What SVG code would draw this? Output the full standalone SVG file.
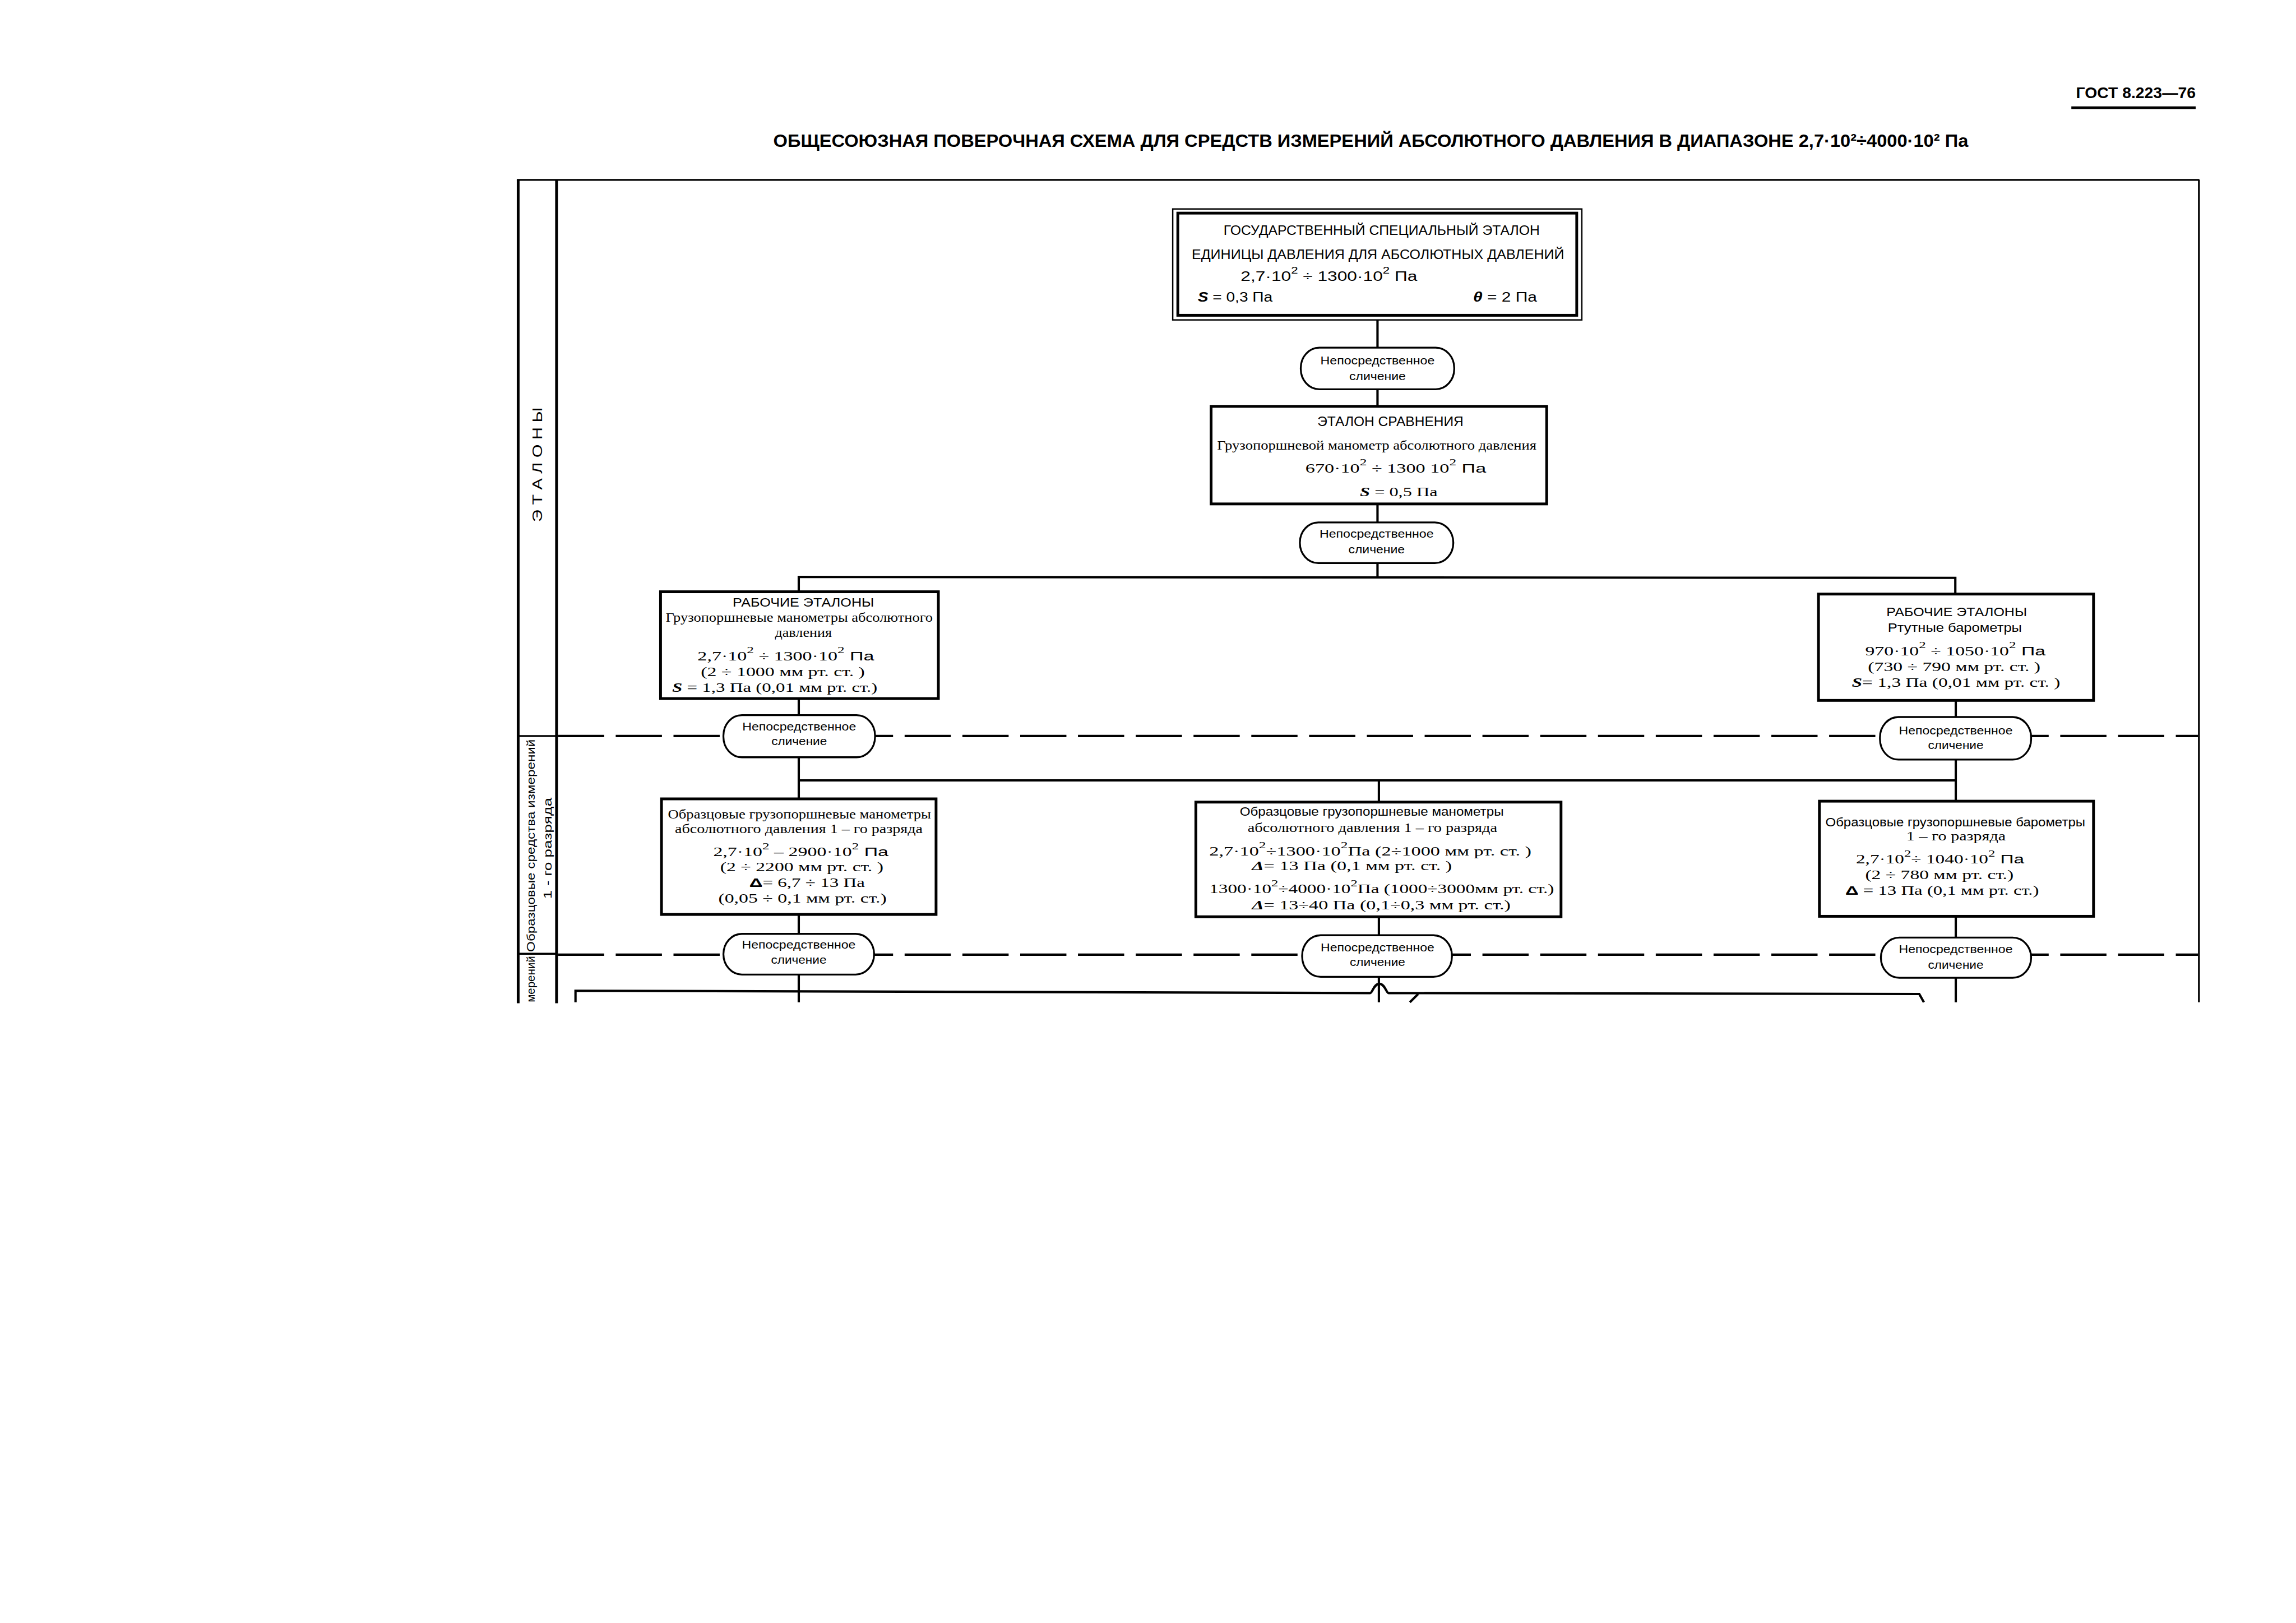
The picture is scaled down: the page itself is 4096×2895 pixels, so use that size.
<svg xmlns="http://www.w3.org/2000/svg" width="4096" height="2895" viewBox="0 0 4096 2895">
<style>
.fr{stroke:#000;stroke-width:6;fill:none}
.fr2{stroke:#000;stroke-width:4;fill:none}
.box{fill:#fff;stroke:#000;stroke-width:6}
.pill{fill:#fff;stroke:#000;stroke-width:4}
.c{stroke:#000;stroke-width:5;fill:none}
.d{stroke:#000;stroke-width:5;fill:none;stroke-dasharray:100 25}
text{fill:#000}
.s{font-family:"Liberation Sans","DejaVu Sans",sans-serif}
.r{font-family:"Liberation Serif","DejaVu Serif",serif}
.m{text-anchor:middle}
.p{font-family:"Liberation Sans","DejaVu Sans",sans-serif;font-size:25px;text-anchor:middle}
.b{font-size:27px}
.h{font-size:30px}
</style>
<rect width="4096" height="2895" fill="#fff"/>
<g transform="scale(0.82464)">
<g id="header">
<text class="s" x="4491" y="212" font-size="34" font-weight="bold" textLength="259" lengthAdjust="spacingAndGlyphs">ГОСТ 8.223—76</text>
<line x1="4481" y1="233" x2="4750" y2="233" stroke="#000" stroke-width="6"/>
<text class="s" x="1673" y="318" font-size="38" font-weight="bold" textLength="2585" lengthAdjust="spacingAndGlyphs">ОБЩЕСОЮЗНАЯ  ПОВЕРОЧНАЯ  СХЕМА  ДЛЯ  СРЕДСТВ  ИЗМЕРЕНИЙ  АБСОЛЮТНОГО  ДАВЛЕНИЯ  В  ДИАПАЗОНЕ  2,7·10²÷4000·10² Па</text>
</g>
<g id="frame">
<line class="fr" x1="1121" y1="389" x2="1121" y2="2170"/>
<line class="fr" x1="1204" y1="389" x2="1204" y2="2170"/>
<line class="fr2" x1="1118" y1="389" x2="4758" y2="389"/>
<line class="fr2" x1="4757" y1="389" x2="4757" y2="2168"/>
<line class="fr2" x1="1121" y1="1592" x2="1204" y2="1592"/>
<line class="fr2" x1="1121" y1="2063" x2="1204" y2="2063"/>
<text class="s" transform="translate(1173,1005) rotate(-90)" text-anchor="middle" font-size="30" textLength="248" lengthAdjust="spacingAndGlyphs">Э Т А Л О Н Ы</text>
<text class="s" transform="translate(1157,1829) rotate(-90)" text-anchor="middle" font-size="25" textLength="460" lengthAdjust="spacingAndGlyphs">Образцовые средства измерений</text>
<text class="s" transform="translate(1193,1835) rotate(-90)" text-anchor="middle" font-size="25" textLength="219" lengthAdjust="spacingAndGlyphs">1 - го разряда</text>
<text class="s" transform="translate(1157,2068) rotate(-90)" text-anchor="end" font-size="25" textLength="100" lengthAdjust="spacingAndGlyphs">мерений</text>
</g>
<g id="connectors">
<line class="c" x1="2980" y1="692" x2="2980" y2="752"/>
<line class="c" x1="2980" y1="842" x2="2980" y2="879"/>
<line class="c" x1="2980" y1="1090" x2="2980" y2="1130"/>
<line class="c" x1="2980" y1="1218" x2="2980" y2="1248"/>
<polyline class="c" points="1728,1280 1728,1248 4230,1250 4230,1285"/>
<line class="c" x1="1728" y1="1511" x2="1728" y2="1547"/>
<line class="c" x1="4231" y1="1515" x2="4231" y2="1551"/>
<line class="c" x1="1728" y1="1638" x2="1728" y2="1728"/>
<line class="c" x1="4231" y1="1643" x2="4231" y2="1733"/>
<line class="c" x1="1728" y1="1688" x2="4231" y2="1688"/>
<line class="c" x1="2983" y1="1688" x2="2983" y2="1735"/>
<line class="d" x1="1207" y1="1592" x2="4755" y2="1592"/>
<line class="d" x1="1207" y1="2065" x2="4755" y2="2065"/>
<line class="c" x1="1728" y1="1978" x2="1728" y2="2020"/>
<line class="c" x1="2983" y1="1983" x2="2983" y2="2023"/>
<line class="c" x1="4231" y1="1982" x2="4231" y2="2028"/>
<line class="c" x1="1728" y1="2108" x2="1728" y2="2168"/>
<line class="c" x1="2983" y1="2113" x2="2983" y2="2168"/>
<line class="c" x1="4231" y1="2115" x2="4231" y2="2168"/>
<path class="c" d="M1245,2168 L1245,2143 L2964,2148 C2969,2148 2972,2128 2984,2128 C2996,2128 2999,2148 3004,2148 L4152,2150 L4162,2168"/>
<line class="c" x1="3068" y1="2150" x2="3050" y2="2168"/>
</g>
<g id="n-state">
<rect x="2537" y="452" width="885" height="240" fill="#fff" stroke="#000" stroke-width="3"/>
<rect x="2548" y="461" width="863" height="221" fill="none" stroke="#000" stroke-width="6"/>
<text class="s m h" x="2989" y="508" textLength="684" lengthAdjust="spacingAndGlyphs">ГОСУДАРСТВЕННЫЙ СПЕЦИАЛЬНЫЙ ЭТАЛОН</text>
<text class="s m h" x="2981" y="560" textLength="806" lengthAdjust="spacingAndGlyphs">ЕДИНИЦЫ ДАВЛЕНИЯ ДЛЯ АБСОЛЮТНЫХ ДАВЛЕНИЙ</text>
<text class="s h" x="2684" y="608" textLength="382" lengthAdjust="spacingAndGlyphs">2,7·10<tspan dy="-16" font-size="21">2</tspan><tspan dy="16"> ÷ 1300·10</tspan><tspan dy="-16" font-size="21">2</tspan><tspan dy="16"> Па</tspan></text>
<text class="s h" x="2591" y="652" textLength="162" lengthAdjust="spacingAndGlyphs"><tspan font-style="italic" font-weight="bold">S</tspan> = 0,3 Па</text>
<text class="s h" x="3187" y="652" textLength="138" lengthAdjust="spacingAndGlyphs"><tspan font-style="italic" font-weight="bold">θ</tspan> = 2 Па</text>
</g>
<g id="n-pill1">
<rect class="pill" x="2814" y="752" width="332" height="90" rx="40" ry="44"/>
<text class="p" x="2980" y="788" textLength="247" lengthAdjust="spacingAndGlyphs">Непосредственное</text>
<text class="p" x="2980" y="822" textLength="122" lengthAdjust="spacingAndGlyphs">сличение</text>
</g>
<g id="n-compare">
<rect class="box" x="2620" y="879" width="726" height="211"/>
<text class="s m" font-size="28" x="3008" y="922" textLength="316" lengthAdjust="spacingAndGlyphs">ЭТАЛОН СРАВНЕНИЯ</text>
<text class="r b" x="2633" y="973" textLength="691" lengthAdjust="spacingAndGlyphs">Грузопоршневой манометр абсолютного давления</text>
<text class="r b" x="2824" y="1022" textLength="391" lengthAdjust="spacingAndGlyphs">670·10<tspan dy="-15" font-size="20">2</tspan><tspan dy="15"> ÷ 1300 10</tspan><tspan dy="-15" font-size="20">2</tspan><tspan dy="15" class="s"> Па</tspan></text>
<text class="r b" x="2942" y="1073" textLength="168" lengthAdjust="spacingAndGlyphs"><tspan font-style="italic" font-weight="bold">S</tspan> = 0,5 Па</text>
</g>
<g id="n-pill2">
<rect class="pill" x="2812" y="1130" width="332" height="88" rx="40" ry="44"/>
<text class="p" x="2978" y="1163" textLength="247" lengthAdjust="spacingAndGlyphs">Непосредственное</text>
<text class="p" x="2978" y="1197" textLength="122" lengthAdjust="spacingAndGlyphs">сличение</text>
</g>
<g id="n-work-left">
<rect class="box" x="1429" y="1280" width="601" height="231"/>
<text class="s m b" x="1738" y="1312" textLength="306" lengthAdjust="spacingAndGlyphs">РАБОЧИЕ ЭТАЛОНЫ</text>
<text class="r m b" x="1729" y="1345" textLength="578" lengthAdjust="spacingAndGlyphs">Грузопоршневые манометры абсолютного</text>
<text class="r m b" x="1738" y="1377" textLength="123" lengthAdjust="spacingAndGlyphs">давления</text>
<text class="r b" x="1509" y="1428" textLength="382" lengthAdjust="spacingAndGlyphs">2,7·10<tspan dy="-15" font-size="20">2</tspan><tspan dy="15"> ÷ 1300·10</tspan><tspan dy="-15" font-size="20">2</tspan><tspan dy="15" class="s"> Па</tspan></text>
<text class="r b" x="1516" y="1463" textLength="355" lengthAdjust="spacingAndGlyphs">(2 ÷ 1000 мм рт. ст. )</text>
<text class="r b" x="1454" y="1497" textLength="444" lengthAdjust="spacingAndGlyphs"><tspan font-style="italic" font-weight="bold">S</tspan> = 1,3 Па (0,01 мм рт. ст.)</text>
</g>
<g id="n-work-right">
<rect class="box" x="3934" y="1285" width="595" height="230"/>
<text class="s b" x="4081" y="1333" textLength="304" lengthAdjust="spacingAndGlyphs">РАБОЧИЕ ЭТАЛОНЫ</text>
<text class="s b" x="4084" y="1367" textLength="290" lengthAdjust="spacingAndGlyphs">Ртутные  барометры</text>
<text class="r b" x="4035" y="1417" textLength="390" lengthAdjust="spacingAndGlyphs">970·10<tspan dy="-15" font-size="20">2</tspan><tspan dy="15"> ÷ 1050·10</tspan><tspan dy="-15" font-size="20">2</tspan><tspan dy="15" class="s"> Па</tspan></text>
<text class="r b" x="4041" y="1452" textLength="373" lengthAdjust="spacingAndGlyphs">(730 ÷ 790 мм рт. ст. )</text>
<text class="r b" x="4006" y="1485" textLength="451" lengthAdjust="spacingAndGlyphs"><tspan font-style="italic" font-weight="bold">S</tspan>= 1,3 Па (0,01 мм рт. ст. )</text>
</g>
<g id="n-pill-s1l">
<rect class="pill" x="1565" y="1547" width="328" height="91" rx="40" ry="44"/>
<text class="p" x="1729" y="1580" textLength="246" lengthAdjust="spacingAndGlyphs">Непосредственное</text>
<text class="p" x="1729" y="1612" textLength="120" lengthAdjust="spacingAndGlyphs">сличение</text>
</g>
<g id="n-pill-s1r">
<rect class="pill" x="4067" y="1551" width="327" height="92" rx="40" ry="44"/>
<text class="p" x="4231" y="1588" textLength="246" lengthAdjust="spacingAndGlyphs">Непосредственное</text>
<text class="p" x="4231" y="1620" textLength="120" lengthAdjust="spacingAndGlyphs">сличение</text>
</g>
<g id="n-obr-left">
<rect class="box" x="1431" y="1728" width="594" height="250"/>
<text class="r b" x="1445" y="1770" textLength="569" lengthAdjust="spacingAndGlyphs">Образцовые грузопоршневые манометры</text>
<text class="r b" x="1460" y="1802" textLength="536" lengthAdjust="spacingAndGlyphs">абсолютного давления 1 – го разряда</text>
<text class="r b" x="1543" y="1852" textLength="379" lengthAdjust="spacingAndGlyphs">2,7·10<tspan dy="-15" font-size="20">2</tspan><tspan dy="15"> – 2900·10</tspan><tspan dy="-15" font-size="20">2</tspan><tspan dy="15" class="s"> Па</tspan></text>
<text class="r b" x="1558" y="1885" textLength="353" lengthAdjust="spacingAndGlyphs">(2 ÷ 2200 мм рт. ст. )</text>
<text class="r b" x="1621" y="1918" textLength="250" lengthAdjust="spacingAndGlyphs"><tspan class="s" font-weight="bold">Δ</tspan>= 6,7 ÷ 13 Па</text>
<text class="r b" x="1554" y="1952" textLength="364" lengthAdjust="spacingAndGlyphs">(0,05 ÷ 0,1 мм рт. ст.)</text>
</g>
<g id="n-obr-mid">
<rect class="box" x="2587" y="1735" width="790" height="248"/>
<text class="s b" x="2682" y="1765" textLength="571" lengthAdjust="spacingAndGlyphs">Образцовые грузопоршневые манометры</text>
<text class="r b" x="2699" y="1800" textLength="540" lengthAdjust="spacingAndGlyphs">абсолютного давления 1 – го разряда</text>
<text class="r b" x="2616" y="1850" textLength="697" lengthAdjust="spacingAndGlyphs">2,7·10<tspan dy="-15" font-size="20">2</tspan><tspan dy="15">÷1300·10</tspan><tspan dy="-15" font-size="20">2</tspan><tspan dy="15">Па (2÷1000 мм рт. ст. )</tspan></text>
<text class="r b" x="2708" y="1882" textLength="433" lengthAdjust="spacingAndGlyphs"><tspan font-style="italic" font-weight="bold">Δ</tspan>= 13 Па (0,1 мм рт. ст. )</text>
<text class="r b" x="2616" y="1932" textLength="746" lengthAdjust="spacingAndGlyphs">1300·10<tspan dy="-15" font-size="20">2</tspan><tspan dy="15">÷4000·10</tspan><tspan dy="-15" font-size="20">2</tspan><tspan dy="15">Па (1000÷3000мм рт. ст.)</tspan></text>
<text class="r b" x="2708" y="1967" textLength="560" lengthAdjust="spacingAndGlyphs"><tspan font-style="italic" font-weight="bold">Δ</tspan>= 13÷40 Па (0,1÷0,3 мм рт. ст.)</text>
</g>
<g id="n-obr-right">
<rect class="box" x="3936" y="1733" width="593" height="249"/>
<text class="s b" x="3949" y="1787" textLength="562" lengthAdjust="spacingAndGlyphs">Образцовые грузопоршневые барометры</text>
<text class="r b" x="4124" y="1818" textLength="215" lengthAdjust="spacingAndGlyphs">1 – го разряда</text>
<text class="r b" x="4015" y="1868" textLength="364" lengthAdjust="spacingAndGlyphs">2,7·10<tspan dy="-15" font-size="20">2</tspan><tspan dy="15">÷ 1040·10</tspan><tspan dy="-15" font-size="20">2</tspan><tspan dy="15" class="s"> Па</tspan></text>
<text class="r b" x="4035" y="1902" textLength="321" lengthAdjust="spacingAndGlyphs">(2 ÷ 780 мм рт. ст.)</text>
<text class="r b" x="3992" y="1935" textLength="419" lengthAdjust="spacingAndGlyphs"><tspan class="s" font-weight="bold">Δ</tspan> = 13 Па (0,1 мм рт. ст.)</text>
</g>
<g id="n-pill-s2l">
<rect class="pill" x="1565" y="2020" width="326" height="88" rx="40" ry="44"/>
<text class="p" x="1728" y="2052" textLength="246" lengthAdjust="spacingAndGlyphs">Непосредственное</text>
<text class="p" x="1728" y="2085" textLength="120" lengthAdjust="spacingAndGlyphs">сличение</text>
</g>
<g id="n-pill-s2m">
<rect class="pill" x="2817" y="2023" width="324" height="90" rx="40" ry="44"/>
<text class="p" x="2980" y="2058" textLength="246" lengthAdjust="spacingAndGlyphs">Непосредственное</text>
<text class="p" x="2980" y="2090" textLength="120" lengthAdjust="spacingAndGlyphs">сличение</text>
</g>
<g id="n-pill-s2r">
<rect class="pill" x="4069" y="2028" width="325" height="87" rx="40" ry="44"/>
<text class="p" x="4231" y="2062" textLength="246" lengthAdjust="spacingAndGlyphs">Непосредственное</text>
<text class="p" x="4231" y="2095" textLength="120" lengthAdjust="spacingAndGlyphs">сличение</text>
</g>
</g>
</svg>
